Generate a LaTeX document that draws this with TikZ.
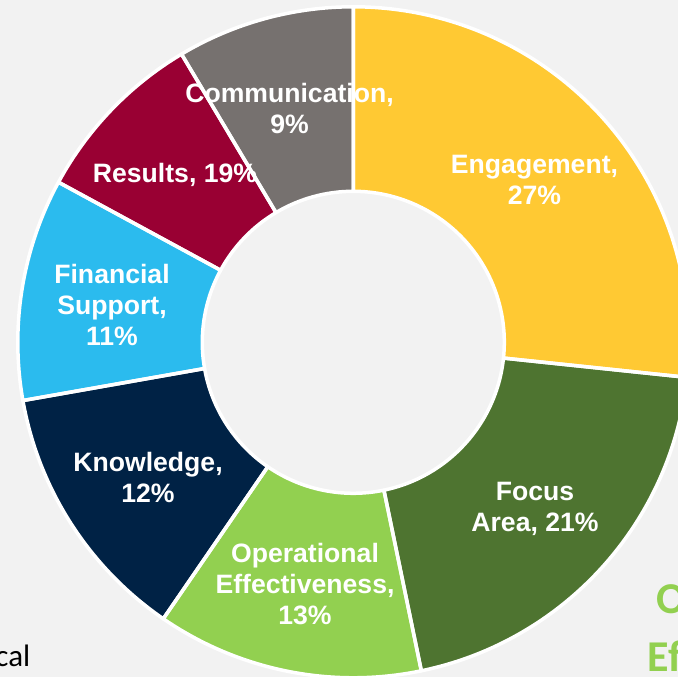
\documentclass[tikz,border=0pt]{standalone}
\usepackage{fontspec}
\setmainfont{Liberation Sans}
\newfontfamily\calibri{Carlito}
\definecolor{bg}{HTML}{F2F2F2}
\definecolor{eng}{HTML}{FFC933}
\definecolor{foc}{HTML}{4E7430}
\definecolor{ope}{HTML}{92D050}
\definecolor{kno}{HTML}{002245}
\definecolor{fin}{HTML}{2BBBEE}
\definecolor{res}{HTML}{990033}
\definecolor{com}{HTML}{76716F}
\begin{document}
\begin{tikzpicture}[x=1pt,y=1pt,
  lbl/.style={text=white,font=\fontsize{26.6}{31}\selectfont\bfseries,align=center,inner sep=0pt},
  side/.style={font=\calibri\fontsize{31}{36}\selectfont,inner sep=0pt},
  green/.style={text=ope,font=\calibri\bfseries\fontsize{44}{57}\selectfont,inner sep=0pt}]
\useasboundingbox[fill=bg] (0,0) rectangle (678,677);
\begin{scope}[shift={(353.3,334.7)}]
  \foreach \a/\b/\col in {90/-6/eng, -6/-78.3/foc, -78.3/-124.5/ope, -124.5/-170/kno, 190/151.5/fin, 151.5/120.8/res, 120.8/90/com}
    \fill[\col] (\a:335.5) arc[start angle=\a,end angle=\b,radius=335.5] -- (\b:151) arc[start angle=\b,end angle=\a,radius=151] -- cycle;
  \foreach \a/\b in {90/-6, -6/-78.3, -78.3/-124.5, -124.5/-170, 190/151.5, 151.5/120.8, 120.8/90}
    \draw[white,line width=3.5pt,line join=round] (\a:335.5) arc[start angle=\a,end angle=\b,radius=335.5] -- (\b:151) arc[start angle=\b,end angle=\a,radius=151] -- cycle;
\end{scope}
\node[lbl] (engl) at (534.5,496.6) {Engagement,\\27\%};
\node[lbl] (focl) at (535,168) {Focus\\Area, 21\%};
\node[lbl] (opel) at (305,92.5) {Operational\\Effectiveness,\\13\%};
\node[lbl] (knol) at (148,200) {Knowledge,\\12\%};
\node[lbl] (finl) at (112,372) {Financial\\Support,\\11\%};
\node[lbl] (resl) at (175,502) {Results, 19\%};
\node[lbl] (coml) at (289.5,568) {Communication,\\9\%};
\node[side,anchor=base east] (cal) at (30.5,10.3) {cal};
\node[green,anchor=base west] (o) at (656,63) {O};
\node[green,anchor=base west] (ef) at (647.5,5.3) {Ef};
\end{tikzpicture}
\end{document}
